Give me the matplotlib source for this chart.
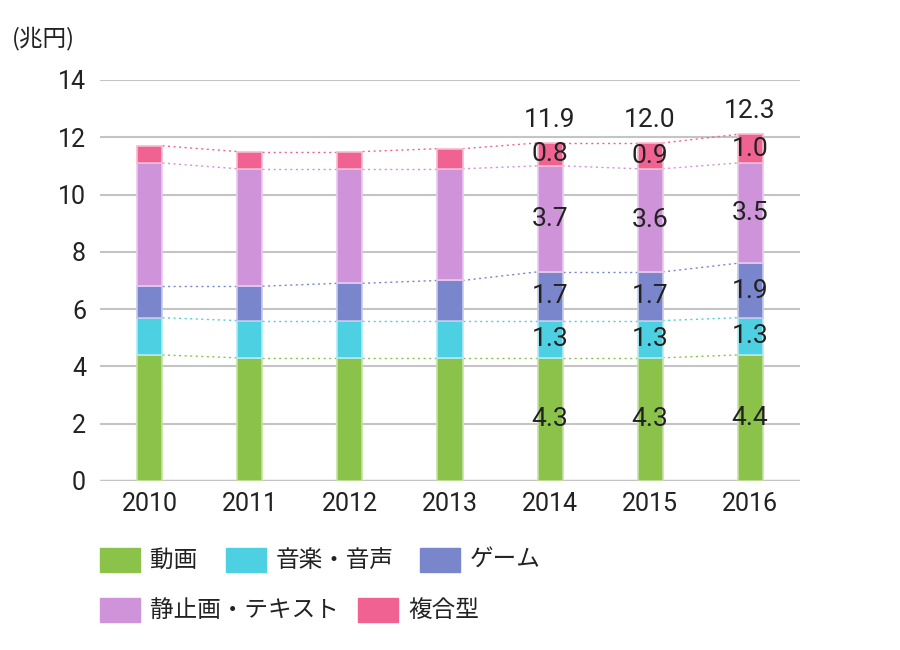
import numpy as np
import matplotlib
matplotlib.use("Agg")
import matplotlib.pyplot as plt
from matplotlib.patches import Rectangle

plt.rcParams['font.family'] = ['Roboto', 'Noto Sans CJK JP', 'DejaVu Sans']

# data (兆円)
years = ['2010', '2011', '2012', '2013', '2014', '2015', '2016']
douga = [4.4, 4.3, 4.3, 4.3, 4.3, 4.3, 4.4]
ongaku = [1.3, 1.3, 1.3, 1.3, 1.3, 1.3, 1.3]
game = [1.1, 1.2, 1.3, 1.4, 1.7, 1.7, 1.9]
seishiga = [4.3, 4.1, 4.0, 3.9, 3.7, 3.6, 3.5]
fukugo = [0.6, 0.6, 0.6, 0.7, 0.8, 0.9, 1.0]
totals = ['', '', '', '', '11.9', '12.0', '12.3']
labeled_years = ['2014', '2015', '2016']

series_names = ['動画', '音楽・音声', 'ゲーム', '静止画・テキスト', '複合型']
colors = ['#8bc34a', '#4dd0e1', '#7986cb', '#ce93d8', '#f06292']
edge_colors = ['#c5e1a5', '#b2ebf2', '#c5cae9', '#e9c8ef', '#f8bbd0']

series = [douga, ongaku, game, seishiga, fukugo]

fig = plt.figure(figsize=(9, 6.5), dpi=100)
ax = fig.add_axes([0.111, 0.26, 0.778, 0.617])

x = np.arange(len(years))
w = 0.25
bottom = np.zeros(len(years))
for vals, c, ec in zip(series, colors, edge_colors):
    vals = np.array(vals)
    ax.bar(x, vals, w, bottom=bottom, color=c, edgecolor=ec, linewidth=1.2, zorder=3)
    top = bottom + vals
    # dotted connectors between bar tops
    for i in range(len(years) - 1):
        ax.plot([x[i] + w / 2, x[i + 1] - w / 2], [top[i], top[i + 1]],
                ls=(0, (1.5, 2.5)), color=c, lw=1.0, zorder=2)
    # segment labels
    for i, yr in enumerate(years):
        if yr in labeled_years:
            ax.text(x[i], bottom[i] + vals[i] / 2, f'{vals[i]:.1f}', ha='center', va='center',
                    fontsize=19, color='#222222', zorder=5)
    bottom = top

for i, t in enumerate(totals):
    if t:
        ax.annotate(t, (x[i], bottom[i]), xytext=(0, 8), textcoords='offset points',
                    ha='center', va='bottom', fontsize=19, color='#222222')

ax.set_xlim(-0.5, 6.5)
ax.set_ylim(0, 14)
ax.set_yticks(np.arange(0, 15, 2))
ax.set_xticks(x)
ax.set_xticklabels(years)
ax.tick_params(axis='both', length=0, labelsize=18, colors='#222222')
ax.tick_params(axis='y', pad=10)
ax.tick_params(axis='x', pad=8)
ax.grid(axis='y', color='#c4c4c4', lw=1.5, zorder=0)
ax.axhline(0, color='#d0d0d0', lw=2.5, zorder=1)
for s in ax.spines.values():
    s.set_visible(False)

fig.text(12 / 900, 1 - 38 / 650, '(兆円)', fontsize=17, color='#222222', va='center',
         family=['Noto Sans CJK JP'])

# legend drawn manually to keep original layout
legend_pos = [(100, 560), (226, 560), (420, 560), (100, 610), (358, 610)]
for (px, py), name, c in zip(legend_pos, series_names, colors):
    fig.patches.append(Rectangle((px / 900, 1 - (py + 12) / 650), 40 / 900, 24 / 650,
                                 transform=fig.transFigure, color=c, figure=fig))
    fig.text((px + 50) / 900, 1 - py / 650, name, fontsize=17, color='#222222', va='center',
             family=['Noto Sans CJK JP'])

fig.savefig('out.png', dpi=100)
